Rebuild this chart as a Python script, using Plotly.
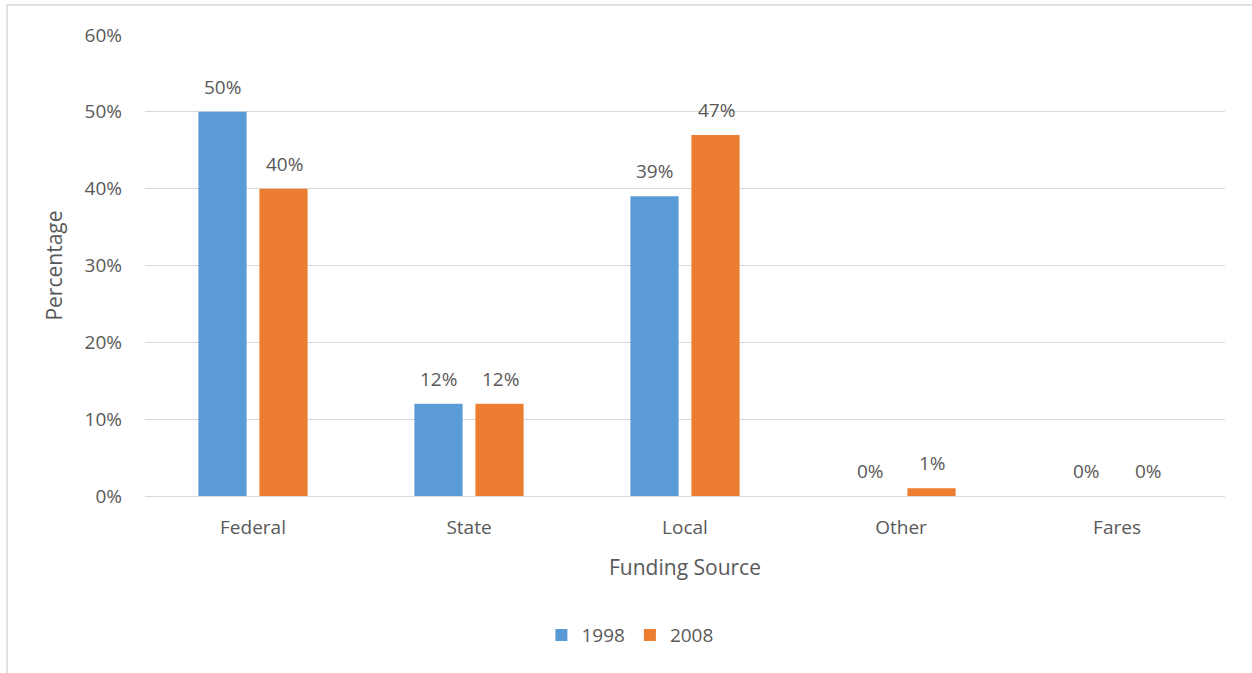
import plotly.graph_objects as go

# Funding share by source, in percent
sources = ["Federal", "State", "Local", "Other", "Fares"]
share_1998 = [50, 12, 39, 0, 0]
share_2008 = [40, 12, 47, 1, 0]
y_ticks = [0, 10, 20, 30, 40, 50, 60]

TEXT = "#595959"
FONT = "Open Sans"
series = [("1998", share_1998, "#5B9BD5", 0), ("2008", share_2008, "#ED7D31", 1)]

fig = go.Figure()
for name, vals, color, _ in series:
    fig.add_trace(go.Bar(
        x=sources, y=vals, name=name,
        marker=dict(color=color, line=dict(width=0)),
        offsetgroup=name,
    ))

# Value labels sit a little above each bar
annotations = []
for name, vals, color, idx in series:
    for cat, v in zip(sources, vals):
        annotations.append(dict(
            x=cat, y=v, xref="x", yref="y", text=f"{v}%", showarrow=False,
            xshift=-31 if idx == 0 else 31, yshift=25, yanchor="middle",
            font=dict(family=FONT, size=19, color=TEXT),
        ))

fig.update_layout(
    width=1252, height=673,
    paper_bgcolor="white", plot_bgcolor="white",
    margin=dict(l=145, r=27, t=35, b=177),
    barmode="group", bargap=0.435, bargroupgap=0.21,
    font=dict(family=FONT, size=19, color=TEXT),
    showlegend=True,
    legend=dict(orientation="h", x=0.449, xanchor="center", y=-0.302, yanchor="middle",
                font=dict(family=FONT, size=19, color=TEXT), traceorder="normal",
                itemwidth=30, itemsizing="constant"),
    xaxis=dict(
        title=dict(text="Funding Source", font=dict(size=21, color=TEXT), standoff=21),
        showgrid=False, showline=False, ticks="", ticklabelstandoff=18,
        tickfont=dict(size=19, color=TEXT),
    ),
    yaxis=dict(
        title=dict(text="Percentage", font=dict(size=21, color=TEXT), standoff=16),
        range=[0, 60], tickvals=y_ticks, ticktext=[f"{t}%" for t in y_ticks],
        tickmode="array",
        showgrid=True, gridcolor="#D9D9D9", gridwidth=1,
        zeroline=True, zerolinecolor="#D9D9D9", zerolinewidth=1,
        showline=False, ticks="", ticklabelstandoff=22,
        tickfont=dict(size=19, color=TEXT),
    ),
    annotations=annotations,
    shapes=[dict(type="rect", xref="paper", yref="paper",
                 x0=-138/1080, x1=1.2, y0=-1.0, y1=1 + 30/461,
                 line=dict(color="#D9D9D9", width=1.5), fillcolor="rgba(0,0,0,0)", layer="below")],
)

fig.write_html("out.html")
